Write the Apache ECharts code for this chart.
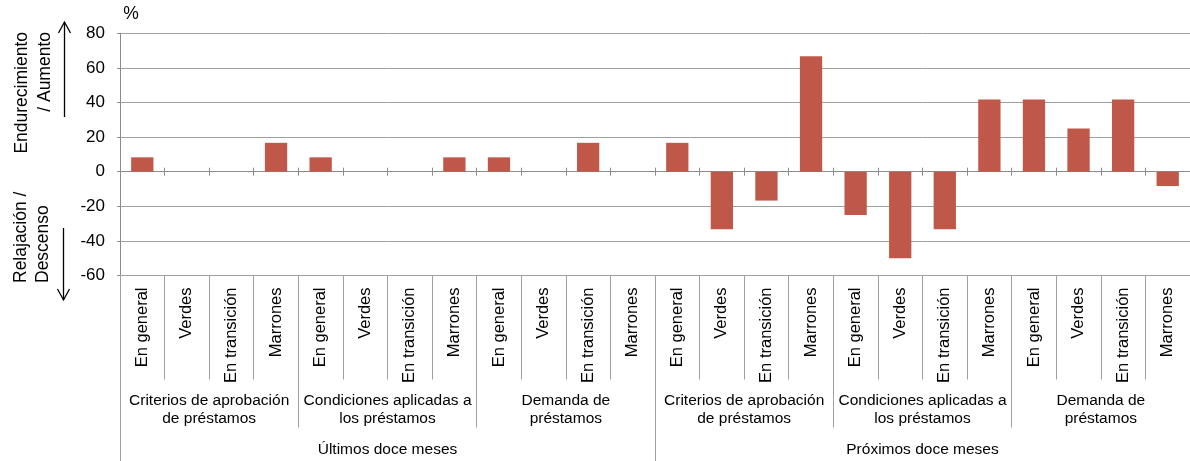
<!DOCTYPE html>
<html>
<head>
<meta charset="utf-8">
<script src="https://cdn.jsdelivr.net/npm/echarts@6/dist/echarts.min.js"></script>
<style>
  html, body { margin: 0; padding: 0; background: #fff; }
  #chart { width: 1190px; height: 461px; }
</style>
</head>
<body>
<div id="chart"></div>
<script>
// ---- Data ----
const subCategories = ['En general', 'Verdes', 'En transición', 'Marrones'];
const groupNames = ['Criterios de aprobación\nde préstamos', 'Condiciones aplicadas a\nlos préstamos', 'Demanda de\npréstamos'];
const periodNames = ['Últimos doce meses', 'Próximos doce meses'];

const ultimosCriterios   = [8.3, 0, 0, 16.7];
const ultimosCondiciones = [8.3, 0, 0, 8.3];
const ultimosDemanda     = [8.3, 0, 16.7, 0];
const proximosCriterios   = [16.7, -33.3, -16.7, 66.7];
const proximosCondiciones = [-25, -50, -33.3, 41.7];
const proximosDemanda     = [41.7, 25, 41.7, -8.3];

const yTicks = { min: -60, max: 80, interval: 20 };

// ---- Derived ----
const categories = [];
const groups = [];
for (let p = 0; p < periodNames.length; p++) {
  for (let g = 0; g < groupNames.length; g++) {
    groups.push(groupNames[g]);
    for (let s = 0; s < subCategories.length; s++) categories.push(subCategories[s]);
  }
}
const values = [].concat(ultimosCriterios, ultimosCondiciones, ultimosDemanda,
                         proximosCriterios, proximosCondiciones, proximosDemanda);

const FONT = "'Liberation Sans', Arial, sans-serif";
const GRID_COLOR = '#A0A0A0';
const AXIS_COLOR = '#8C8C8C';
const SEP_COLOR = '#A0A0A0';

const gridTop = 33.3, gridBottomY = 275.5, H = 461;

const chart = echarts.init(document.getElementById('chart'), null, { renderer: 'canvas' });

const hiddenLabel = { show: false };
const titleFont = '17.5px ' + FONT;

chart.setOption({
  animation: false,
  backgroundColor: '#fff',
  grid: { left: 120, right: 0, top: gridTop, bottom: H - gridBottomY, containLabel: false },
  xAxis: [
    { // zero-line axis, ticks down
      type: 'category', data: categories, position: 'bottom',
      axisLine: { onZero: true, onZeroAxisIndex: 0, lineStyle: { color: AXIS_COLOR, width: 1 } },
      axisTick: { show: true, length: 4, interval: 0, lineStyle: { color: AXIS_COLOR } },
      axisLabel: hiddenLabel, splitLine: { show: false }
    },
    { // zero-line axis, ticks up
      type: 'category', data: categories, position: 'top',
      axisLine: { show: false, onZero: true, onZeroAxisIndex: 0 },
      axisTick: { show: true, length: 4, interval: 0, lineStyle: { color: AXIS_COLOR } },
      axisLabel: hiddenLabel, splitLine: { show: false }
    },
    { // category labels at bottom
      type: 'category', data: categories, position: 'bottom',
      axisLine: { show: false, onZero: false },
      axisTick: { show: true, length: 104, interval: 0, lineStyle: { color: SEP_COLOR } },
      axisLabel: { show: true, interval: 0, rotate: 90, margin: 12, color: '#000', fontSize: 16.5, fontFamily: FONT },
      splitLine: { show: false }
    },
    { // group labels
      type: 'category', data: groups, position: 'bottom',
      axisLine: { show: false, onZero: false },
      axisTick: { show: true, length: 152, interval: 0, lineStyle: { color: SEP_COLOR } },
      axisLabel: { show: true, interval: 0, margin: 116, color: '#000', fontSize: 15.5, lineHeight: 18, fontFamily: FONT, align: 'center' },
      splitLine: { show: false }
    },
    { // period labels
      type: 'category', data: periodNames, position: 'bottom',
      axisLine: { show: false, onZero: false },
      axisTick: { show: true, length: 186, interval: 0, lineStyle: { color: SEP_COLOR } },
      axisLabel: { show: true, interval: 0, margin: 165, color: '#000', fontSize: 15.5, lineHeight: 18, fontFamily: FONT },
      splitLine: { show: false }
    }
  ],
  yAxis: [{
    type: 'value', min: yTicks.min, max: yTicks.max, interval: yTicks.interval,
    axisLine: { show: true, lineStyle: { color: AXIS_COLOR } },
    axisTick: { show: true, length: 3, lineStyle: { color: AXIS_COLOR } },
    axisLabel: { color: '#000', fontSize: 17, fontFamily: FONT, margin: 15 },
    splitLine: { show: true, lineStyle: { color: GRID_COLOR, width: 1 } }
  }],
  series: [{
    type: 'bar', data: values, xAxisIndex: 0, yAxisIndex: 0,
    barCategoryGap: '50%',
    itemStyle: { color: '#C0584A' }
  }],
  graphic: [
    { type: 'text', x: 131, y: 14, style: { text: '%', font: titleFont, fill: '#000', textAlign: 'center', textVerticalAlign: 'middle' } },
    { type: 'text', x: 22, y: 32, rotation: Math.PI / 2, style: { text: 'Endurecimiento', font: titleFont, fill: '#000', textAlign: 'right', textVerticalAlign: 'middle' } },
    { type: 'text', x: 45, y: 32, rotation: Math.PI / 2, style: { text: '/ Aumento', font: titleFont, fill: '#000', textAlign: 'right', textVerticalAlign: 'middle' } },
    { type: 'text', x: 21, y: 283, rotation: Math.PI / 2, style: { text: 'Relajación /', font: titleFont, fill: '#000', textAlign: 'left', textVerticalAlign: 'middle' } },
    { type: 'text', x: 43, y: 283, rotation: Math.PI / 2, style: { text: 'Descenso', font: titleFont, fill: '#000', textAlign: 'left', textVerticalAlign: 'middle' } },
    { type: 'line', shape: { x1: 64.5, y1: 117, x2: 64.5, y2: 22 }, style: { stroke: '#000', lineWidth: 1.3 } },
    { type: 'polyline', shape: { points: [[58.5, 33], [64.5, 22], [70.5, 33]] }, style: { stroke: '#000', lineWidth: 1.3, fill: null } },
    { type: 'line', shape: { x1: 63.5, y1: 228, x2: 63.5, y2: 300 }, style: { stroke: '#000', lineWidth: 1.3 } },
    { type: 'polyline', shape: { points: [[57.5, 289], [63.5, 300], [69.5, 289]] }, style: { stroke: '#000', lineWidth: 1.3, fill: null } }
  ]
});
</script>
</body>
</html>
